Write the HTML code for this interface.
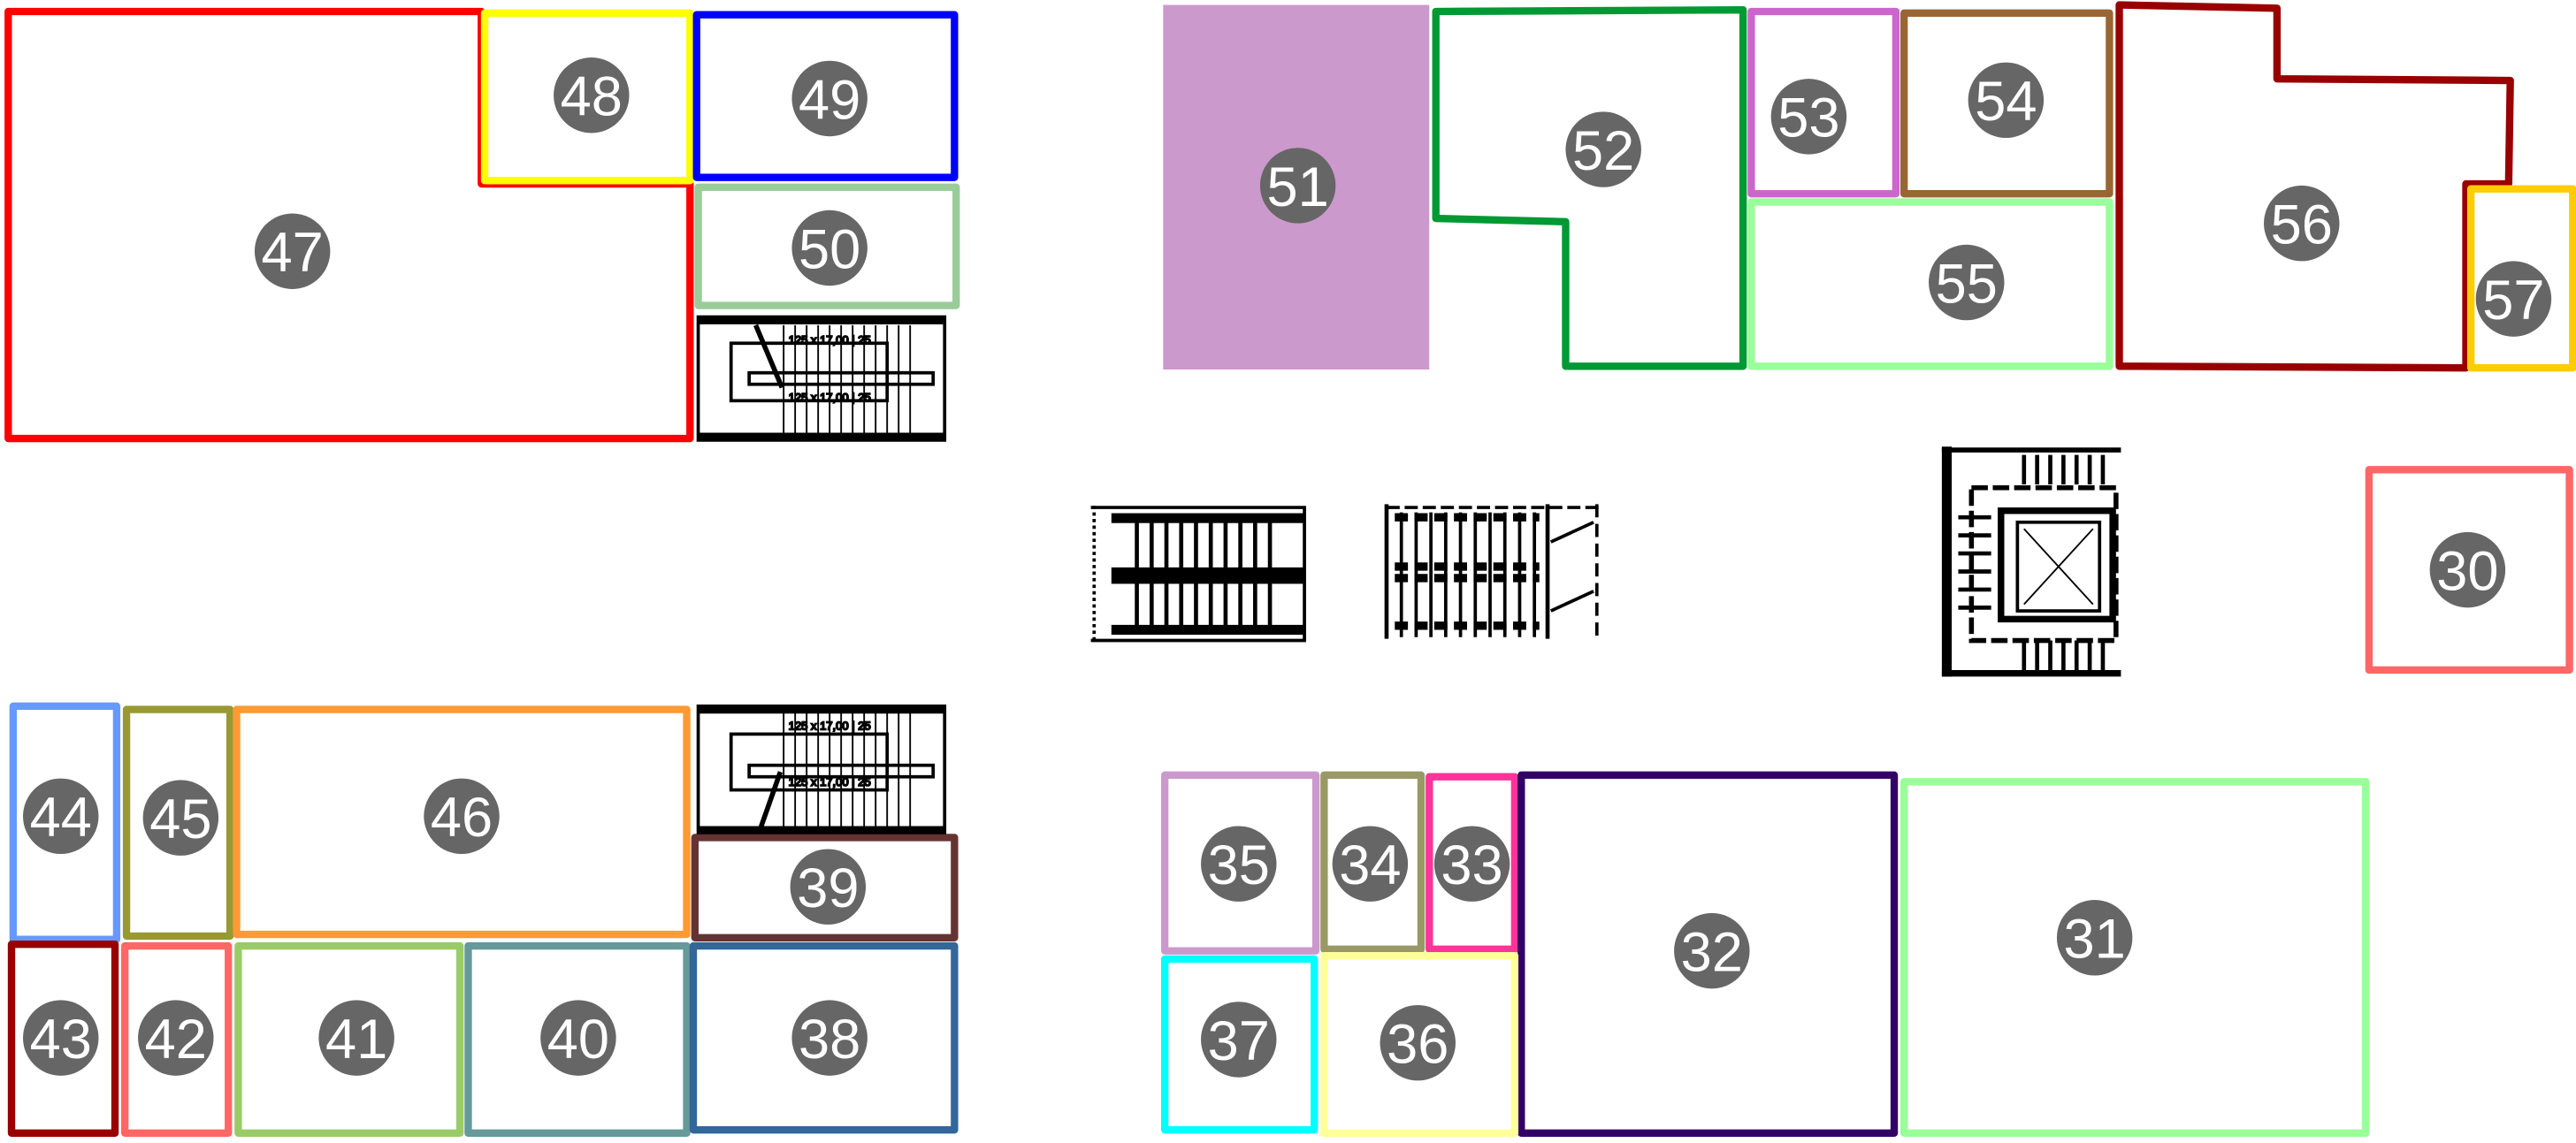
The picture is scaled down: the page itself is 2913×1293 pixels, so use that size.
<!DOCTYPE html>
<html><head><meta charset="utf-8"><style>
html,body{margin:0;padding:0;background:#fff;width:2913px;height:1293px;overflow:hidden}
svg{display:block}
text{font-family:"Liberation Sans",sans-serif;font-size:34px;fill:#fff;text-anchor:middle;dominant-baseline:central}
</style></head><body>
<svg width="2913" height="1293" viewBox="0 0 1568 696" preserveAspectRatio="none" xmlns="http://www.w3.org/2000/svg">
<g fill="none" stroke-width="4.5" stroke-linejoin="round">
<polygon points="5,7 293,7 293,112 420,112 420,267 5,267" stroke="#ff0000"/>
<rect x="295" y="8" width="125" height="102" stroke="#ffff00"/>
<rect x="424" y="9" width="157" height="99" stroke="#0000ff"/>
<rect x="425" y="114" width="157" height="72" stroke="#99cc99"/>
<rect x="708" y="3" width="162" height="222" fill="#cc99cc" stroke="none"/>
<polygon points="874,7 1061,6 1061,223 953,223 953,135 874,133" stroke="#009933"/>
<rect x="1066" y="7" width="88" height="111" stroke="#cc66cc"/>
<rect x="1159" y="8" width="125" height="110" stroke="#996633"/>
<rect x="1066" y="123" width="218" height="100" stroke="#99ff99"/>
<polygon points="1290,3 1386,5 1386,48 1528,49 1527,112 1501,112 1501,224 1290,223" stroke="#990000"/>
<rect x="1504" y="115" width="62" height="109" stroke="#ffcc00"/>
<rect x="1442" y="286" width="122" height="122" stroke="#ff6666"/>
<rect x="8" y="430" width="63" height="142" stroke="#6699ff"/>
<rect x="77" y="432" width="63" height="138" stroke="#999933"/>
<rect x="144" y="432" width="274" height="137" stroke="#ff9933"/>
<rect x="423" y="510" width="158" height="61" stroke="#663333"/>
<rect x="7" y="575" width="63" height="115" stroke="#990000"/>
<rect x="76" y="576" width="63" height="114" stroke="#ff6666"/>
<rect x="145" y="576" width="135" height="114" stroke="#99cc66"/>
<rect x="285" y="576" width="133" height="114" stroke="#669999"/>
<rect x="422" y="576" width="159" height="112" stroke="#336699"/>
<rect x="709" y="472" width="92" height="107" stroke="#cc99cc"/>
<rect x="806" y="472" width="59" height="106" stroke="#999966"/>
<rect x="870" y="473" width="52" height="105" stroke="#ff3399"/>
<rect x="926" y="472" width="227" height="218" stroke="#330066"/>
<rect x="1159" y="476" width="281" height="214" stroke="#99ff99"/>
<rect x="709" y="584" width="91" height="104" stroke="#00ffff"/>
<rect x="806" y="582" width="116" height="108" stroke="#ffff99"/>
</g>
<g stroke="#000" fill="none">
<rect x="425" y="193" width="150" height="75" stroke-width="2"/>
<line x1="425" y1="195" x2="575" y2="195" stroke-width="5"/>
<line x1="425" y1="266" x2="575" y2="266" stroke-width="5"/>
<rect x="445" y="209" width="95" height="35" stroke-width="2"/>
<rect x="456" y="227" width="112" height="7" stroke-width="2"/>
<line x1="460" y1="198" x2="476" y2="236" stroke-width="3"/>
<path d="M477,198v66M484,198v66M491,198v66M498,198v66M505,198v66M512,198v66M519,198v66M526,198v66M533,198v66M540,198v66M547,198v66M554,198v66" stroke-width="1"/>
<text x="505" y="207" style="font-size:7px;fill:#000">125 x 17,00 | 25</text>
<text x="505" y="242" style="font-size:7px;fill:#000">125 x 17,00 | 25</text>
</g>
<g stroke="#000" fill="none">
<rect x="425" y="430" width="150" height="77" stroke-width="2"/>
<line x1="425" y1="432" x2="575" y2="432" stroke-width="5"/>
<line x1="425" y1="505" x2="575" y2="505" stroke-width="4"/>
<rect x="445" y="447" width="95" height="34" stroke-width="2"/>
<rect x="456" y="466" width="112" height="7" stroke-width="2"/>
<line x1="475" y1="470" x2="462" y2="507" stroke-width="3"/>
<path d="M477,433v70M484,433v70M491,433v70M498,433v70M505,433v70M512,433v70M519,433v70M526,433v70M533,433v70M540,433v70M547,433v70M554,433v70" stroke-width="1"/>
<text x="505" y="442" style="font-size:7px;fill:#000">125 x 17,00 | 25</text>
<text x="505" y="476" style="font-size:7px;fill:#000">125 x 17,00 | 25</text>
</g>
<g stroke="#000" fill="none">
<line x1="666" y1="308" x2="666" y2="391" stroke-width="2" stroke-dasharray="2,2"/>
<line x1="664" y1="309" x2="795" y2="309" stroke-width="2"/>
<line x1="664" y1="390" x2="795" y2="390" stroke-width="2"/>
<line x1="794" y1="309" x2="794" y2="390" stroke-width="2"/>
<rect x="677" y="313" width="117" height="5" fill="#000"/>
<rect x="677" y="346" width="117" height="9" fill="#000"/>
<rect x="677" y="381" width="117" height="5" fill="#000"/>
<path d="M692,313v73M701,313v73M710,313v73M719,313v73M728,313v73M737,313v73M746,313v73M755,313v73M764,313v73M773,313v73" stroke-width="2.5"/>
</g>
<g stroke="#000" fill="none">
<line x1="844" y1="307" x2="844" y2="389" stroke-width="2.5"/>
<line x1="844" y1="309" x2="973" y2="309" stroke-width="2" stroke-dasharray="8,3"/>
<line x1="942" y1="307" x2="942" y2="389" stroke-width="2.5"/>
<line x1="972" y1="307" x2="972" y2="389" stroke-width="2" stroke-dasharray="8,4"/>
<path d="M849,315h88M849,345h88M849,352h88M849,381h88" stroke-width="5" stroke-dasharray="8,4"/>
<path d="M853,312v76M862,312v76M871,312v76M880,312v76M889,312v76M898,312v76M907,312v76M916,312v76M925,312v76M934,312v76" stroke-width="2"/>
<line x1="944" y1="330" x2="970" y2="318" stroke-width="2"/>
<line x1="944" y1="372" x2="970" y2="360" stroke-width="2"/>
</g>
<g stroke="#000" fill="none">
<line x1="1185" y1="272" x2="1185" y2="412" stroke-width="6"/>
<line x1="1182" y1="274" x2="1291" y2="274" stroke-width="3"/>
<line x1="1182" y1="410" x2="1291" y2="410" stroke-width="4"/>
<rect x="1200" y="297" width="88" height="93" stroke-width="3" stroke-dasharray="10,3"/>
<rect x="1218" y="311" width="68" height="66" stroke-width="4"/>
<rect x="1228" y="318" width="50" height="54" stroke-width="2"/>
<line x1="1232" y1="322" x2="1274" y2="368" stroke-width="1"/>
<line x1="1274" y1="322" x2="1232" y2="368" stroke-width="1"/>
<path d="M1232,277v18M1240,277v18M1248,277v18M1256,277v18M1264,277v18M1272,277v18M1280,277v18M1232,390v18M1240,390v18M1248,390v18M1256,390v18M1264,390v18M1272,390v18M1280,390v18" stroke-width="2.5"/>
<path d="M1192,315h20M1192,326h20M1192,337h20M1192,348h20M1192,359h20M1192,370h20" stroke-width="2.5"/>
</g>
<g fill="#666">
<circle cx="178" cy="153" r="23"/><circle cx="360" cy="58" r="23"/>
<circle cx="505" cy="60" r="23"/><circle cx="505" cy="151" r="23"/>
<circle cx="790" cy="113" r="23"/><circle cx="976" cy="91" r="23"/>
<circle cx="1101" cy="71" r="23"/><circle cx="1221" cy="61" r="23"/>
<circle cx="1197" cy="172" r="23"/><circle cx="1401" cy="136" r="23"/>
<circle cx="1530" cy="182" r="23"/><circle cx="1502" cy="347" r="23"/>
<circle cx="37" cy="497" r="23"/><circle cx="110" cy="498" r="23"/>
<circle cx="281" cy="497" r="23"/><circle cx="504" cy="540" r="23"/>
<circle cx="37" cy="632" r="23"/><circle cx="107" cy="632" r="23"/>
<circle cx="217" cy="632" r="23"/><circle cx="352" cy="632" r="23"/>
<circle cx="505" cy="632" r="23"/><circle cx="754" cy="526" r="23"/>
<circle cx="834" cy="526" r="23"/><circle cx="896" cy="526" r="23"/>
<circle cx="1042" cy="579" r="23"/><circle cx="1275" cy="571" r="23"/>
<circle cx="754" cy="633" r="23"/><circle cx="863" cy="635" r="23"/>
</g>
<g>
<text x="178" y="154">47</text><text x="360" y="59">48</text><text x="505" y="61">49</text><text x="505" y="152">50</text>
<text x="790" y="114">51</text><text x="976" y="92">52</text><text x="1101" y="72">53</text><text x="1221" y="62">54</text>
<text x="1197" y="173">55</text><text x="1401" y="137">56</text><text x="1530" y="183">57</text><text x="1502" y="348">30</text>
<text x="37" y="498">44</text><text x="110" y="499">45</text><text x="281" y="498">46</text><text x="504" y="541">39</text>
<text x="37" y="633">43</text><text x="107" y="633">42</text><text x="217" y="633">41</text><text x="352" y="633">40</text>
<text x="505" y="633">38</text><text x="754" y="527">35</text><text x="834" y="527">34</text><text x="896" y="527">33</text>
<text x="1042" y="580">32</text><text x="1275" y="572">31</text><text x="754" y="634">37</text><text x="863" y="636">36</text>
</g>
</svg>
</body></html>
